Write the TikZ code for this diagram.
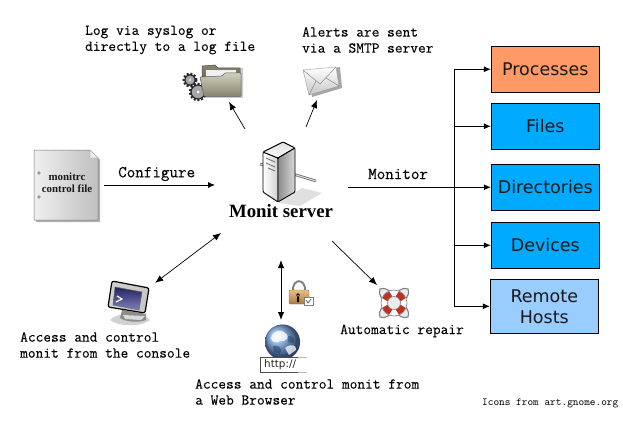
\documentclass[tikz,border=0pt]{standalone}
\usepackage{fontspec}
\newfontfamily\labfont{Latin Modern Mono}[FakeBold=0.2]
\newfontfamily\smallfont{Latin Modern Mono}
\newfontfamily\boxfont{DejaVu Sans}
\newfontfamily\serifbold{Liberation Serif}[BoldFont={Liberation Serif Bold}]
\usetikzlibrary{arrows.meta,calc}
\tikzset{
  lab/.style={font=\labfont\fontsize{15}{16}\selectfont,align=left,anchor=west,inner sep=0pt,text=black},
  biglab/.style={lab,font=\labfont\fontsize{16.6}{18}\selectfont},
  tgt/.style={draw=black,line width=1pt,minimum width=108pt,minimum height=46pt,inner sep=0pt,font=\boxfont\fontsize{17.5}{21}\selectfont,text=black!90,align=center},
  con/.style={draw=black,line width=0.8pt,-{Latex[length=7pt,width=6pt]}},
  biarr/.style={draw=black,line width=0.7pt,{Latex[length=8pt,width=6.5pt]}-{Latex[length=8pt,width=6.5pt]}},
  thin arr/.style={draw=black,line width=0.7pt,-{Latex[length=8pt,width=6.5pt]}},
  gear/.style={draw=black!85,line width=1.2pt,fill=black!35},
  gear teeth/.style={draw=black!85,line width=2pt,dash pattern=on 2pt off 1.8pt},
}
\definecolor{orangebox}{HTML}{FF9966}
\definecolor{bluebox}{HTML}{00AAFF}
\definecolor{lightbox}{HTML}{99CCFF}
\definecolor{folderhi}{HTML}{CFCFBA}
\definecolor{folderlo}{HTML}{85856F}
\definecolor{folderdk}{HTML}{66664F}
\definecolor{screenhi}{HTML}{23235E}
\definecolor{screenlo}{HTML}{8080BE}
\definecolor{lockhi}{HTML}{E8C080}
\definecolor{locklo}{HTML}{A87840}
\definecolor{globehi}{HTML}{7FA8DC}
\definecolor{globelo}{HTML}{10306E}
\definecolor{buoyred}{HTML}{C03020}
\begin{document}
\begin{tikzpicture}[x=1pt,y=-1pt]
\useasboundingbox (0,0) rectangle (623,425);
\fill[white] (0,0) rectangle (623,425);
% right-hand boxes
\node[tgt,fill=orangebox] (proc) at (545.3,69.3) {Processes};
\node[tgt,fill=bluebox] (files) at (545.3,126.3) {Files};
\node[tgt,fill=bluebox] (dirs) at (545.3,187.3) {Directories};
\node[tgt,fill=bluebox] (devs) at (545.3,245.3) {Devices};
\node[tgt,fill=lightbox,minimum height=54pt] (hosts) at (544.3,306.3) {Remote\\Hosts};
% document icon
\fill[black!30] (36,152) -- (92,152) -- (100,160) -- (100,222) -- (36,222) -- cycle;
\shade[left color=black!6,right color=black!25,draw=black!55,line width=.5pt] (34,150) -- (90,150) -- (98,158) -- (98,220) -- (34,220) -- cycle;
\fill[black!8,draw=black!40,line width=.3pt] (90,150) -- (90,158) -- (98,158) -- cycle;
\fill[black!40] (39,173) circle (1.8) (39,197) circle (1.8);
\node[font=\serifbold\bfseries\fontsize{10.9}{12}\selectfont,align=center,inner sep=0pt,text=black!90] (docu) at (67,183) {monitrc\\control file};
\coordinate (docout) at (104,185);
% server icon
\fill[black!12] (278,203) -- (302,188) -- (322,193) -- (300,206) -- cycle;
\draw[black!60,line width=2.6pt] (260,164) -- (316,181);
\draw[black!12,line width=1pt] (260,164) -- (316,181);
\shade[left color=white,right color=black!18,draw=black,line width=.9pt,rounded corners=1pt] (263,152) -- (263,192) -- (278,202) -- (278,158) -- cycle;
\shade[top color=black!12,bottom color=black!2,draw=black,line width=.9pt,rounded corners=1pt] (263,152) -- (283,142) -- (295,148) -- (278,158) -- cycle;
\shade[left color=black!45,right color=black!15,draw=black,line width=.9pt,rounded corners=1pt] (278,158) -- (295,148) -- (295,192) -- (278,202) -- cycle;
\draw[black!55,line width=.9pt] (266,158) -- (275,162) (266,163) -- (275,167) (268,168) -- (275,171);
\node[font=\serifbold\bfseries\fontsize{18.8}{20}\selectfont,inner sep=0pt] (server) at (281,211) {Monit server};
% folder icon with gears
\fill[black!20] (204,70) -- (243,68) -- (243,98) -- (206,98) -- cycle;
\draw[gear teeth] (198,92) circle (8.2);
\draw[gear] (198,92) circle (7);
\fill[white] (198,92) circle (1.5);
\draw[gear teeth] (190,80) circle (6.4);
\draw[gear] (190,80) circle (5.3);
\fill[black!15] (190,80) circle (1.5);
\shade[top color=folderlo,bottom color=folderdk,draw=black!70,line width=.5pt] (202,66) -- (215,65) -- (218,68) -- (240,68) -- (240,82) -- (202,82) -- cycle;
\fill[black!6] (206,70) rectangle (236,80);
\shade[top color=folderhi,bottom color=folderlo,draw=black!65,line width=.5pt,rounded corners=.8pt] (200,77) -- (222,76) -- (225,73) -- (241,73) -- (241,96.5) -- (204,96.5) -- cycle;
\coordinate (folder) at (229,102);
% envelope icon
\fill[black!35] (309,73) -- (340,67) -- (342,88) -- (312,97) -- cycle;
\shade[top color=white,bottom color=black!22,draw=black!40,line width=.4pt] (303,70) -- (336,67) -- (339,86) -- (309,95) -- cycle;
\draw[black!45,line width=.5pt] (303,70) -- (320,84) -- (336,67) (309,95) -- (316,81) (339,86) -- (326,78);
\coordinate (mail) at (317,100);
% monitor icon
\fill[black!18] (110,320) .. controls (118,311) and (142,312) .. (150,320) .. controls (142,327) and (118,327) .. (110,320) -- cycle;
\fill[black!45] (122,310) -- (146,314) -- (146,320) .. controls (138,323) and (126,322) .. (120,318) -- cycle;
\fill[black!15] (123,315) -- (145,316) -- (141,320) -- (125,319) -- cycle;
\shade[left color=black!18,right color=black!22,draw=black,line width=1.2pt,rounded corners=2pt] (112,281) -- (149,288) -- (145,313) -- (108,307) -- cycle;
\shade[top color=screenhi,bottom color=screenlo,draw=black!60,line width=.5pt] (115,287) -- (142,292) -- (139,310) -- (113,305) -- cycle;
\draw[white,line width=1.2pt] (117,296) -- (122,299) -- (116,302);
\node[inner sep=0pt,minimum size=0pt] (mon) at (155,283) {};
% lock icon
\draw[black!50,line width=2pt] (293,291) .. controls (292,278) and (306,278) .. (305,291);
\shade[top color=lockhi,bottom color=locklo,draw=black!55,line width=.4pt,rounded corners=1pt] (289,290) -- (309,290) -- (309,304) -- (289,304) -- cycle;
\fill[black] (298,295) circle (1.8) (297,295) rectangle (299,302);
\fill[white,draw=black!50,line width=.3pt] (304,297) rectangle (313,305);
\draw[black!65,line width=.7pt] (306,300) -- (308,303) -- (311,299);
% globe icon
\shade[ball color=globehi] (282.5,342) circle (17.5);
\fill[globelo,opacity=.3,even odd rule] (282.5,342) circle (17.5) (281,340) circle (14.5);
\fill[white,opacity=.8] (271,338) .. controls (273,330) and (282,329) .. (285,333) .. controls (291,337) and (286,342) .. (280,341) .. controls (277,344) and (271,342) .. (271,338) -- cycle;
\fill[white,opacity=.75] (285,348) .. controls (291,343) and (297,345) .. (296,350) -- (289,355) -- cycle;
\fill[globelo,opacity=.45] (273,346) .. controls (279,344) and (283,349) .. (280,354) -- (274,352) -- cycle;
\fill[globelo,opacity=.4] (288,336) .. controls (292,335) and (295,339) .. (294,343) -- (288,342) -- cycle;
\fill[white] (259,357) rectangle (307,373);
\draw[black!70,line width=.8pt] (307,357) -- (260,357) -- (260,372.5) -- (307,372.5);
\fill[white,opacity=.6] (298,355) rectangle (308,374);
\node[font=\boxfont\fontsize{10.4}{12}\selectfont,inner sep=0pt,text=black!85,anchor=west] (http) at (264,365) {http://};
% lifebuoy icon
\draw[black!50,line width=1.1pt,fill=black!8] (380,289) .. controls (386,286) and (390,293) .. (394,293) .. controls (398,293) and (402,286) .. (408,289) .. controls (411,295) and (404,299) .. (404,303) .. controls (404,307) and (411,311) .. (408,317) .. controls (402,320) and (398,313) .. (394,313) .. controls (390,313) and (386,320) .. (380,317) .. controls (377,311) and (384,307) .. (384,303) .. controls (384,299) and (377,295) .. (380,289) -- cycle;
\fill[white,even odd rule] (394,303) circle (13) (394,303) circle (6.5);
\begin{scope}[line width=6pt,buoyred]
\draw (394,303) ++(20:9.7) arc (20:70:9.7);
\draw (394,303) ++(110:9.7) arc (110:160:9.7);
\draw (394,303) ++(200:9.7) arc (200:250:9.7);
\draw (394,303) ++(290:9.7) arc (290:340:9.7);
\end{scope}
\draw[black!50,line width=.6pt] (394,303) circle (13) (394,303) circle (6.5);
% connector anchors
\coordinate (srvin) at (215,185);
\coordinate (srvul) at (245,129);
\coordinate (srvur) at (306,127);
\coordinate (srvout) at (348,187.3);
\coordinate (srvdl) at (221,233);
\coordinate (srvd) at (281,260);
\coordinate (webtop) at (281,320);
\coordinate (srvdr) at (332,241);
\coordinate (repair) at (377,285);
\coordinate (trunktop) at (454.3,69.3);
\coordinate (trunkbot) at (454.3,306.3);
% connectors
\draw[con] (docout) -- (srvin);
\draw[thin arr] (srvul) -- (folder);
\draw[thin arr] (srvur) -- (mail);
\draw[biarr] (srvdl) -- (mon);
\draw[biarr,line width=.9pt] (srvd) -- (webtop);
\draw[thin arr] (srvdr) -- (repair);
\draw[con] (srvout) -- (dirs.west);
\draw[line width=.8pt] (proc.west -| trunktop) -- (hosts.west -| trunktop);
\draw[con] (trunktop) -- (proc.west);
\draw[con] (files.west -| trunktop) -- (files.west);
\draw[con] (devs.west -| trunktop) -- (devs.west);
\draw[con] (trunkbot) -- (hosts.west);
% labels
\node[lab] (t1) at (85,40) {Log via syslog or\\directly to a log file};
\node[lab] (t2) at (302,40) {Alerts are sent\\via a SMTP server};
\node[biglab] (t3) at (118,174) {Configure};
\node[biglab] (t4) at (368,174) {Monitor};
\node[lab] (t5) at (20,345) {Access and control\\monit from the console};
\node[lab] (t6) at (340,331) {Automatic repair};
\node[lab] (t7) at (195,392) {Access and control monit from\\a Web Browser};
\node[lab,font=\smallfont\fontsize{10.8}{13}\selectfont] (t8) at (482,403) {Icons from art.gnome.org};
\end{tikzpicture}
\end{document}
